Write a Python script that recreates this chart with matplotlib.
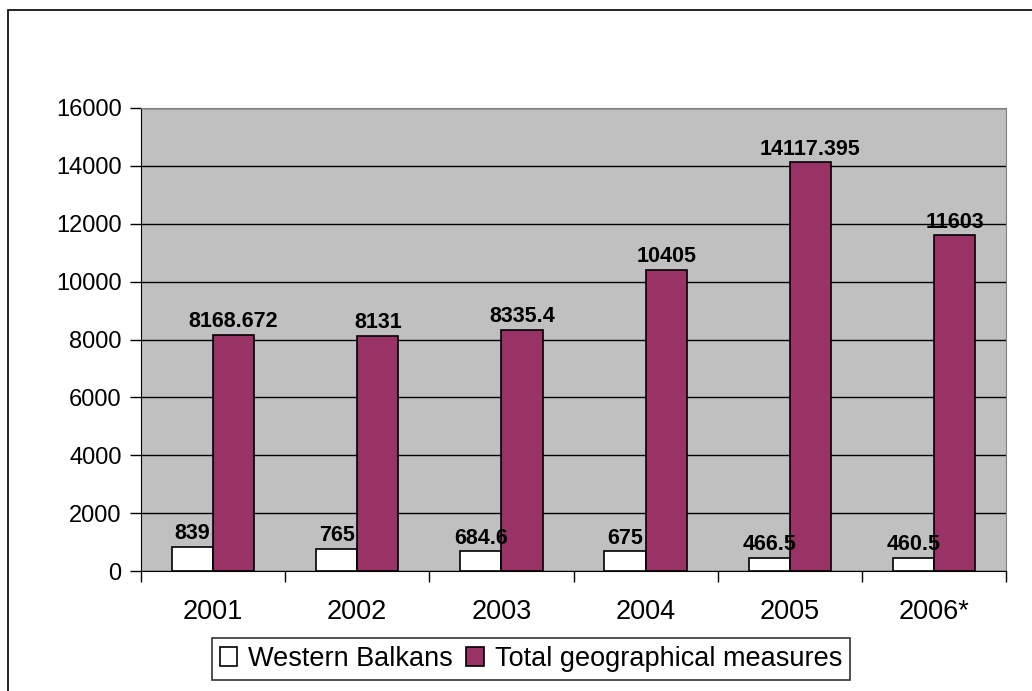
import numpy as np
import matplotlib.pyplot as plt
from matplotlib.patches import Rectangle

plt.rcParams['font.family'] = ['Liberation Sans', 'DejaVu Sans']

years = ['2001', '2002', '2003', '2004', '2005', '2006*']
western_balkans = [839, 765, 684.6, 675, 466.5, 460.5]
total_geo = [8168.672, 8131, 8335.4, 10405, 14117.395, 11603]
wb_labels = ['839', '765', '684.6', '675', '466.5', '460.5']
total_labels = ['8168.672', '8131', '8335.4', '10405', '14117.395', '11603']

W, H = 1032, 691
fig = plt.figure(figsize=(W / 100, H / 100), dpi=100)

# outer chart border (right and bottom edges run off the image)
fig.patches.append(Rectangle((8 / W, -5 / H), (W + 10) / W, (H - 5) / H,
                             transform=fig.transFigure, fill=False,
                             edgecolor='black', linewidth=1.2))

ax = fig.add_axes([141 / W, (H - 571) / H, 865 / W, 463 / H])
ax.set_facecolor('#C0C0C0')

x = np.arange(len(years))
w = 0.285
b1 = ax.bar(x - w / 2, western_balkans, w, color='white', edgecolor='black',
            linewidth=1.2, label='Western Balkans', zorder=3)
b2 = ax.bar(x + w / 2, total_geo, w, color='#993366', edgecolor='black',
            linewidth=1.2, label='Total geographical measures', zorder=3)

for bars, labels in ((b1, wb_labels), (b2, total_labels)):
    for rect, lab in zip(bars, labels):
        ax.annotate(lab, (rect.get_x() + rect.get_width() / 2, rect.get_height()),
                    xytext=(0, 5.5), textcoords='offset points', ha='center',
                    va='baseline', fontsize=15.5, fontweight='bold', zorder=4)

ax.set_ylim(0, 16000)
ax.set_yticks(range(0, 16001, 2000))
ax.set_xlim(-0.5, len(years) - 0.5)
ax.yaxis.grid(True, color='black', linewidth=1)
ax.set_axisbelow(True)

ax.set_xticks(x)
ax.set_xticklabels(years)
ax.set_xticks(np.arange(-0.5, len(years), 1), minor=True)
ax.tick_params(axis='x', which='major', length=0, pad=20, labelsize=19.5)
ax.tick_params(axis='x', which='minor', length=8, width=1, direction='out',
               bottom=True, labelbottom=False)
ax.tick_params(axis='y', length=8, width=1, labelsize=17, pad=6)

for side in ('top', 'right'):
    ax.spines[side].set_color('#808080')
for side in ('left', 'bottom'):
    ax.spines[side].set_color('black')

leg = fig.legend(loc='center', bbox_to_anchor=(531 / W, (H - 659) / H),
                 ncol=2, fontsize=19.5, frameon=True, fancybox=False,
                 handlelength=0.65, handleheight=0.65, handletextpad=0.4,
                 columnspacing=0.5, borderpad=0.3, borderaxespad=0.2)
leg.get_frame().set_edgecolor('black')
leg.get_frame().set_linewidth(1.2)

fig.savefig('out.png', dpi=100)
